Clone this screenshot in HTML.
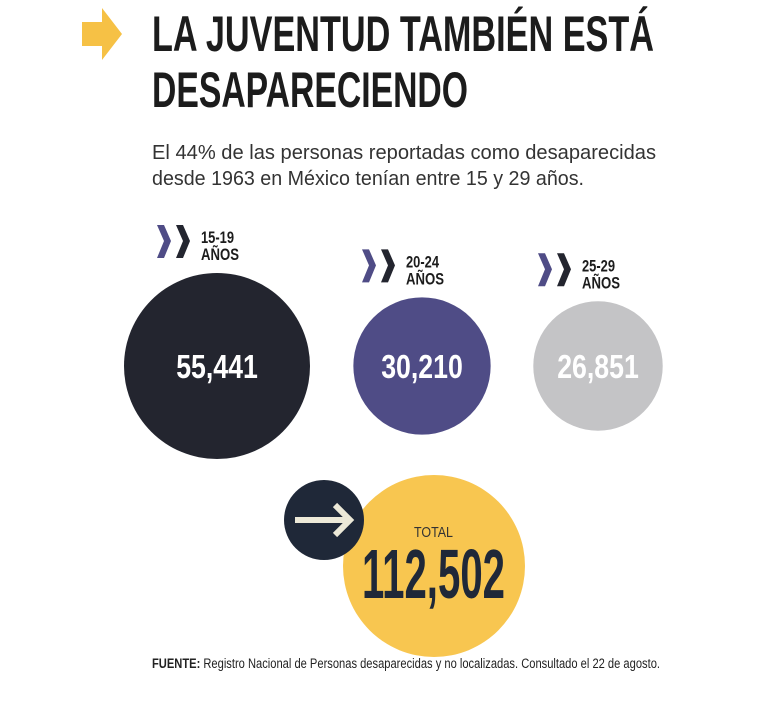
<!DOCTYPE html>
<html><head><meta charset="utf-8"><style>
html,body{margin:0;padding:0;background:#fff;width:768px;height:707px;overflow:hidden}
svg{display:block}
.cond{font-family:"Liberation Sans Narrow","Liberation Sans",sans-serif;font-weight:bold}
</style></head><body>
<svg id="chart" width="768" height="707" viewBox="0 0 768 707">
<polygon points="82,22 102,22 102,8 122,34 102,60 102,46 82,46" fill="#f6c145"/>
<text class="cond" x="152" y="51" font-size="50" textLength="502" lengthAdjust="spacingAndGlyphs" fill="#1c1c1c">LA JUVENTUD TAMBIÉN ESTÁ</text>
<text class="cond" x="152" y="107" font-size="50" textLength="316" lengthAdjust="spacingAndGlyphs" fill="#1c1c1c">DESAPARECIENDO</text>
<text x="152" y="159" font-family="Liberation Sans,sans-serif" font-size="20" textLength="504" lengthAdjust="spacingAndGlyphs" fill="#333">El 44% de las personas reportadas como desaparecidas</text>
<text x="152" y="185" font-family="Liberation Sans,sans-serif" font-size="20" textLength="432" lengthAdjust="spacingAndGlyphs" fill="#333">desde 1963 en México tenían entre 15 y 29 años.</text>
<g id="bubbles"></g>
<circle cx="434" cy="566" r="91" fill="#f8c650"/>
<circle cx="324" cy="520" r="40" fill="#1f2838"/>
<g stroke="#ece9d8" stroke-width="6" fill="none" stroke-linecap="butt" stroke-linejoin="miter">
<line x1="295" y1="520" x2="350" y2="520"/><polyline points="335,505 350,520 335,535"/></g>
<text x="414" y="537" font-family="Liberation Sans,sans-serif" font-size="15" textLength="39" lengthAdjust="spacingAndGlyphs" fill="#333">TOTAL</text>
<text id="totalValue" class="cond" x="362" y="598" font-size="70" textLength="143" lengthAdjust="spacingAndGlyphs" fill="#1f2838"></text>
<text x="152" y="668" font-family="Liberation Sans Narrow,Liberation Sans,sans-serif" font-size="13.5" textLength="508" lengthAdjust="spacingAndGlyphs" fill="#222"><tspan font-weight="bold">FUENTE:</tspan> Registro Nacional de Personas desaparecidas y no localizadas. Consultado el 22 de agosto.</text>
</svg>
<script>
const categories=["15-19","20-24","25-29"];
const values=[55441,30210,26851];
const total=112502;
const colors=["#23252f","#4f4c86","#c4c4c6"];
const centersX=[217,422,598];
const NS="http://www.w3.org/2000/svg";
const g=document.getElementById('bubbles');
const rScale=v=>93*Math.sqrt(v/values[0]);
const fmt=v=>v.toLocaleString('en-US');
function mk(tag,attrs){const e=document.createElementNS(NS,tag);for(const k in attrs)e.setAttribute(k,attrs[k]);return e;}
categories.forEach((c,i)=>{
  const r=rScale(values[i]);const cx=centersX[i];const cy=366;
  const circ=mk('circle',{cx:cx,cy:cy,r:r,fill:colors[i]});
  
  
  g.appendChild(circ);
  const label=fmt(values[i]);
  const t=mk('text',{x:cx,y:cy+12,'text-anchor':'middle','font-size':33,fill:'#fff',class:'cond',textLength:label.length*13.6,lengthAdjust:'spacingAndGlyphs'});
  t.textContent=label;
  
  
  g.appendChild(t);
  const top=cy-r-48;
  const ch=mk('g',{});
  
  
  const x0=cx-60;
  ch.appendChild(mk('polygon',{points:`${x0},${top} ${x0+7},${top} ${x0+14},${top+16} ${x0+7},${top+33} ${x0},${top+33} ${x0+7},${top+16}`,fill:'#4f4c86'}));
  ch.appendChild(mk('polygon',{points:`${x0+19},${top} ${x0+26},${top} ${x0+33},${top+16} ${x0+26},${top+33} ${x0+19},${top+33} ${x0+26},${top+16}`,fill:'#23252f'}));
  g.appendChild(ch);
  const l1=mk('text',{x:x0+44,y:top+18,'font-size':17,fill:'#1c1c1c',class:'cond',textLength:33,lengthAdjust:'spacingAndGlyphs'});
  l1.textContent=c;
  
  
  g.appendChild(l1);
  const l2=mk('text',{x:x0+44,y:top+35,'font-size':17,fill:'#1c1c1c',class:'cond',textLength:38,lengthAdjust:'spacingAndGlyphs'});
  l2.textContent='AÑOS';
  
  
  g.appendChild(l2);
});
document.getElementById('totalValue').textContent=fmt(total);
</script>
</body></html>
